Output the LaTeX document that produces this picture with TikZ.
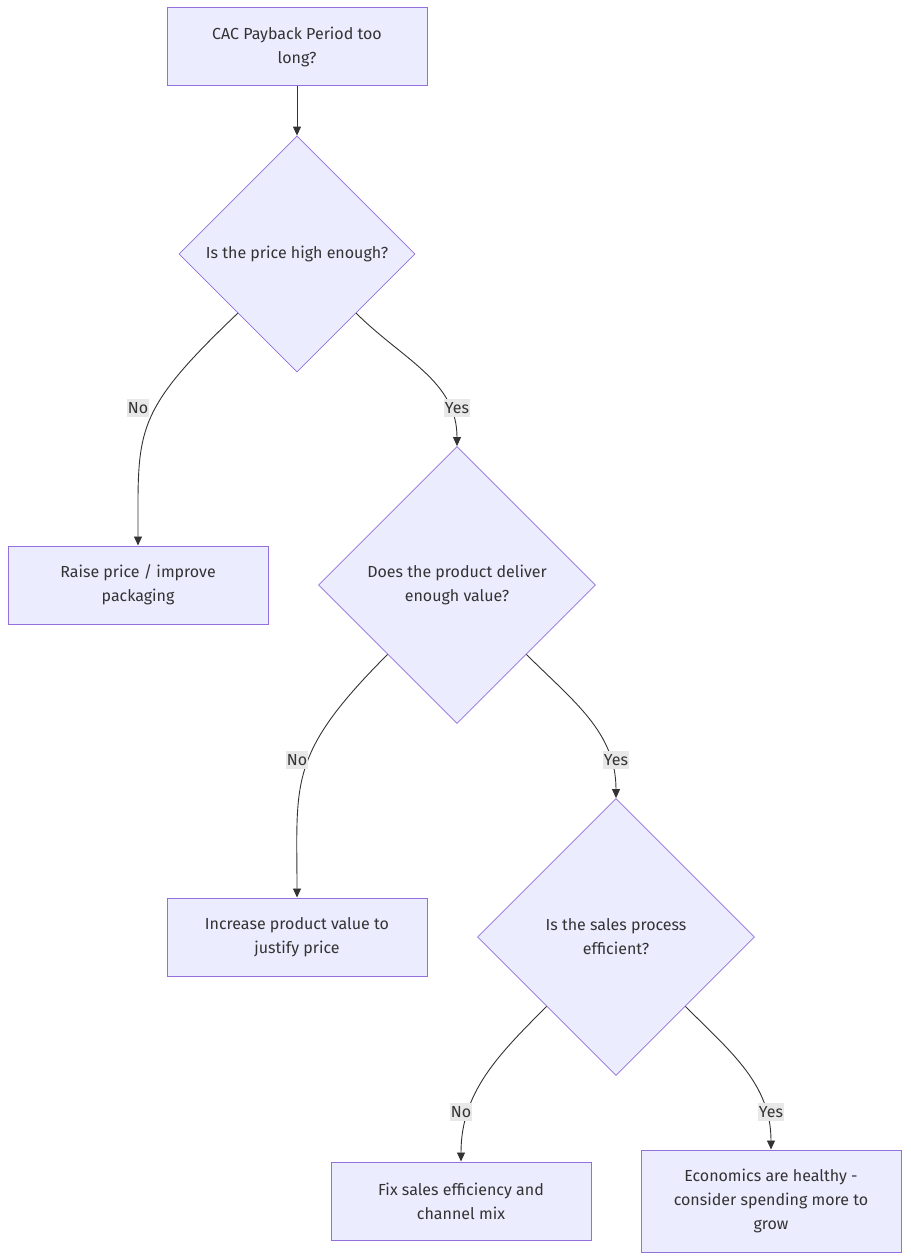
\documentclass[tikz,border=0pt]{standalone}
\usepackage{fontspec}
\setmainfont{Fira Sans}
\usetikzlibrary{arrows.meta,shapes.geometric}
\definecolor{nodefill}{HTML}{ECECFF}\definecolor{nodeline}{HTML}{9370DB}
\definecolor{ink}{HTML}{333333}\definecolor{lblbg}{HTML}{E8E8E8}
\tikzset{>={Triangle[length=9pt,width=8pt]},every node/.style={font=\fontsize{16}{24}\selectfont,text=ink},
box/.style={draw=nodeline,fill=nodefill,line width=1pt,minimum width=260pt,minimum height=78pt,align=center},
choice/.style={diamond,aspect=1,draw=nodeline,fill=nodefill,line width=.8pt,inner sep=0pt,align=center},
flow/.style={draw=ink,line width=.9pt,->},lbl/.style={fill=lblbg,inner xsep=1pt,inner ysep=3pt}}
\begin{document}
\begin{tikzpicture}[x=1pt,y=-1pt]
\useasboundingbox (0,0) rectangle (910,1260);
\node[box] (pay) at (297,47) {CAC Payback Period too\\long?};
\node[choice,minimum size=236pt] (price) at (297,254) {Is the price high enough?};
\node[box] (raise) at (138,585) {Raise price / improve\\packaging};
\node[choice,minimum size=277pt] (value) at (457,585) {Does the product deliver\\enough value?};
\node[box] (boost) at (297,937) {Increase product value to\\justify price};
\node[choice,minimum size=277pt] (sales) at (616,937) {Is the sales process\\efficient?};
\node[box] (fix) at (461,1201) {Fix sales efficiency and\\channel mix};
\node[box,minimum height=102pt] (grow) at (771,1201) {Economics are healthy -\\consider spending more to\\grow};
% connectors
\draw[flow] (pay.south)--(price.north);
\draw[flow] (price.south west) .. controls +(-105,100) and +(0,-116) .. (raise.north);
\draw[flow] (price.south east) to[out=-45,in=90] (value.north);
\draw[flow] (value.south west) .. controls +(-100,100) and +(0,-116) .. (boost.north);
\draw[flow] (value.south east) to[out=-45,in=90] (sales.north);
\draw[flow] (sales.south west) to[out=225,in=90] (fix.north);
\draw[flow] (sales.south east) to[out=-45,in=90] (grow.north);
% labels
\node[lbl] (no1) at (138,408) {No};\node[lbl] (yes1) at (457,408) {Yes};
\node[lbl] (no2) at (297,760) {No};\node[lbl] (yes2) at (616,760) {Yes};
\node[lbl] (no3) at (461,1112) {No};\node[lbl] (yes3) at (771,1112) {Yes};
\end{tikzpicture}
\end{document}
